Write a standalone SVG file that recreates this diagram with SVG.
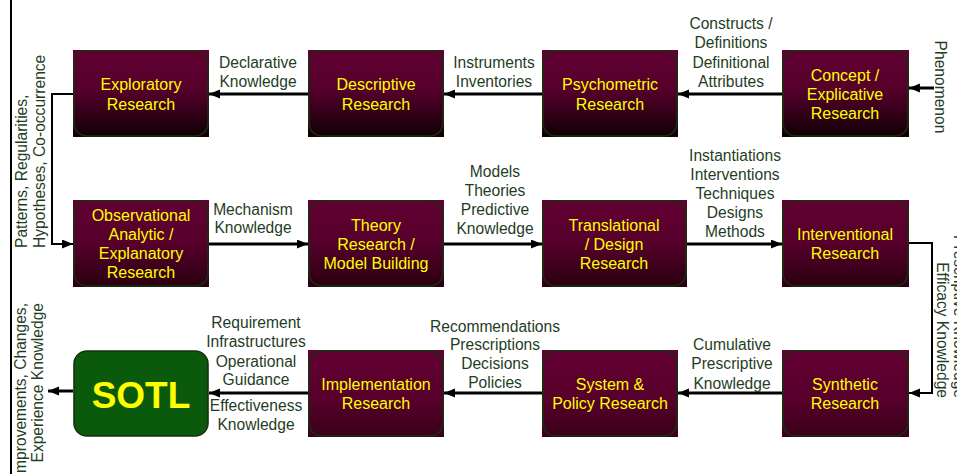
<svg xmlns="http://www.w3.org/2000/svg" width="957" height="474" viewBox="0 0 957 474">
<defs>
<linearGradient id="g1" x1="0" y1="0" x2="0" y2="1"><stop offset="0" stop-color="#620032"/><stop offset="0.45" stop-color="#56002b"/><stop offset="1" stop-color="#100004"/></linearGradient>
<linearGradient id="g2" x1="0" y1="0" x2="0" y2="1"><stop offset="0" stop-color="#620032"/><stop offset="0.5" stop-color="#56002b"/><stop offset="1" stop-color="#2a0010"/></linearGradient>
<linearGradient id="g3" x1="0" y1="0" x2="0" y2="1"><stop offset="0" stop-color="#620032"/><stop offset="0.55" stop-color="#58002c"/><stop offset="1" stop-color="#3a001a"/></linearGradient>
<marker id="ah" markerUnits="userSpaceOnUse" markerWidth="12" markerHeight="10" refX="11" refY="4.5" orient="auto"><path d="M0,0 L11,4.5 L0,9 z" fill="#000"/></marker>
<style>
.bt{font-family:"Liberation Sans",Arial,sans-serif;font-size:16px;fill:#ffff00;text-anchor:middle}
.lb{font-family:"Liberation Sans",Arial,sans-serif;font-size:15.6px;fill:#1f3d1f;text-anchor:middle}
.rim{fill:none;stroke:#17300f;stroke-width:1.6}
.c{fill:none;stroke:#000;stroke-width:3}
.e{fill:none;stroke:#000;stroke-width:2}
</style>
</defs>
<rect width="957" height="474" fill="#fff"/>

<g id="connectors">
<path class="e" d="M11,0 V474"/>
<path class="c" d="M308,94 H209" marker-end="url(#ah)"/>
<path class="c" d="M542,94 H444" marker-end="url(#ah)"/>
<path class="c" d="M782,94 H678" marker-end="url(#ah)"/>
<path class="c" d="M934,88 H909" marker-end="url(#ah)"/>
<path class="e" d="M73,94 H52 V244 H73" marker-end="url(#ah)"/>
<path class="c" d="M209,244 H308" marker-end="url(#ah)"/>
<path class="c" d="M444,244 H542" marker-end="url(#ah)"/>
<path class="c" d="M687,244 H782" marker-end="url(#ah)"/>
<path class="e" d="M909,243 H932 V393 H909" marker-end="url(#ah)"/>
<path class="c" d="M782,393 H678" marker-end="url(#ah)"/>
<path class="c" d="M542,393 H444" marker-end="url(#ah)"/>
<path class="c" d="M308,393 H209" marker-end="url(#ah)"/>
<path class="c" d="M73,391 H48" marker-end="url(#ah)"/>
</g>

<g id="labels">
<text class="lb" x="258" y="68">Declarative</text>
<text class="lb" x="258" y="87">Knowledge</text>
<text class="lb" x="494" y="68">Instruments</text>
<text class="lb" x="494" y="87">Inventories</text>
<text class="lb" x="731" y="29">Constructs /</text>
<text class="lb" x="731" y="48">Definitions</text>
<text class="lb" x="731" y="68">Definitional</text>
<text class="lb" x="731" y="87">Attributes</text>
<text class="lb" transform="translate(935,87) rotate(90)">Phenomenon</text>
<text class="lb" transform="translate(27,248) rotate(-90)" style="text-anchor:start">Patterns, Regularities,</text>
<text class="lb" transform="translate(45,248) rotate(-90)" style="text-anchor:start">Hypotheses, Co-occurrence</text>
<text class="lb" x="253" y="215">Mechanism</text>
<text class="lb" x="253" y="233">Knowledge</text>
<text class="lb" x="495" y="177">Models</text>
<text class="lb" x="495" y="196">Theories</text>
<text class="lb" x="495" y="215">Predictive</text>
<text class="lb" x="495" y="234">Knowledge</text>
<text class="lb" x="735" y="161">Instantiations</text>
<text class="lb" x="735" y="180">Interventions</text>
<text class="lb" x="735" y="199">Techniques</text>
<text class="lb" x="735" y="218">Designs</text>
<text class="lb" x="735" y="237">Methods</text>
<text class="lb" transform="translate(954,398) rotate(90)" style="text-anchor:end">Prescriptive Knowledge</text>
<text class="lb" transform="translate(937,398) rotate(90)" style="text-anchor:end">Efficacy Knowledge</text>
<text class="lb" x="732" y="350">Cumulative</text>
<text class="lb" x="732" y="369">Prescriptive</text>
<text class="lb" x="732" y="389">Knowledge</text>
<text class="lb" x="495" y="332">Recommendations</text>
<text class="lb" x="495" y="350">Prescriptions</text>
<text class="lb" x="495" y="369">Decisions</text>
<text class="lb" x="495" y="388">Policies</text>
<text class="lb" x="256" y="328">Requirement</text>
<text class="lb" x="256" y="347">Infrastructures</text>
<text class="lb" x="256" y="367">Operational</text>
<text class="lb" x="256" y="385">Guidance</text>
<text class="lb" x="256" y="411">Effectiveness</text>
<text class="lb" x="256" y="430">Knowledge</text>
<text class="lb" transform="translate(26,303) rotate(-90)" style="text-anchor:end">Improvements, Changes,</text>
<text class="lb" transform="translate(43,303) rotate(-90)" style="text-anchor:end">Experience Knowledge</text>
</g>

<g id="exploratory">
<rect x="73" y="50" width="136" height="87" fill="url(#g1)"/>
<rect class="rim" x="74" y="51" width="134" height="85" rx="13"/>
<text class="bt" x="141" y="90">Exploratory</text>
<text class="bt" x="141" y="110">Research</text>
</g>
<g id="descriptive">
<rect x="308" y="50" width="136" height="87" fill="url(#g1)"/>
<rect class="rim" x="309" y="51" width="134" height="85" rx="13"/>
<text class="bt" x="376" y="90">Descriptive</text>
<text class="bt" x="376" y="110">Research</text>
</g>
<g id="psychometric">
<rect x="542" y="50" width="136" height="87" fill="url(#g1)"/>
<rect class="rim" x="543" y="51" width="134" height="85" rx="13"/>
<text class="bt" x="610" y="90">Psychometric</text>
<text class="bt" x="610" y="110">Research</text>
</g>
<g id="concept">
<rect x="782" y="50" width="127" height="87" fill="url(#g1)"/>
<rect class="rim" x="783" y="51" width="125" height="85" rx="13"/>
<text class="bt" x="845" y="81">Concept /</text>
<text class="bt" x="845" y="100">Explicative</text>
<text class="bt" x="845" y="119">Research</text>
</g>

<g id="observational">
<rect x="73" y="200" width="136" height="87" fill="url(#g2)"/>
<rect class="rim" x="74" y="201" width="134" height="85" rx="13"/>
<text class="bt" x="141" y="221">Observational</text>
<text class="bt" x="141" y="240">Analytic /</text>
<text class="bt" x="141" y="259">Explanatory</text>
<text class="bt" x="141" y="278">Research</text>
</g>
<g id="theory">
<rect x="308" y="200" width="136" height="87" fill="url(#g2)"/>
<rect class="rim" x="309" y="201" width="134" height="85" rx="13"/>
<text class="bt" x="376" y="231">Theory</text>
<text class="bt" x="376" y="250">Research /</text>
<text class="bt" x="376" y="269">Model Building</text>
</g>
<g id="translational">
<rect x="542" y="200" width="145" height="87" fill="url(#g2)"/>
<rect class="rim" x="543" y="201" width="143" height="85" rx="13"/>
<text class="bt" x="614" y="231">Translational</text>
<text class="bt" x="614" y="250">/ Design</text>
<text class="bt" x="614" y="269">Research</text>
</g>
<g id="interventional">
<rect x="782" y="200" width="127" height="87" fill="url(#g2)"/>
<rect class="rim" x="783" y="201" width="125" height="85" rx="13"/>
<text class="bt" x="845" y="240">Interventional</text>
<text class="bt" x="845" y="259">Research</text>
</g>

<g id="sotl">
<rect x="74" y="351" width="134" height="85" rx="13" fill="#0b5a0b" stroke="#17300f" stroke-width="1.6"/>
<text x="141" y="408" style="font-family:'Liberation Sans',Arial,sans-serif;font-size:37px;font-weight:bold;fill:#ffff00;text-anchor:middle">SOTL</text>
</g>
<g id="implementation">
<rect x="308" y="350" width="136" height="87" fill="url(#g3)"/>
<rect class="rim" x="309" y="351" width="134" height="85" rx="13"/>
<text class="bt" x="376" y="390">Implementation</text>
<text class="bt" x="376" y="409">Research</text>
</g>
<g id="system">
<rect x="542" y="350" width="136" height="87" fill="url(#g3)"/>
<rect class="rim" x="543" y="351" width="134" height="85" rx="13"/>
<text class="bt" x="610" y="390">System &amp;</text>
<text class="bt" x="610" y="409">Policy Research</text>
</g>
<g id="synthetic">
<rect x="782" y="350" width="127" height="87" fill="url(#g3)"/>
<rect class="rim" x="783" y="351" width="125" height="85" rx="13"/>
<text class="bt" x="845" y="390">Synthetic</text>
<text class="bt" x="845" y="409">Research</text>
</g>
</svg>
